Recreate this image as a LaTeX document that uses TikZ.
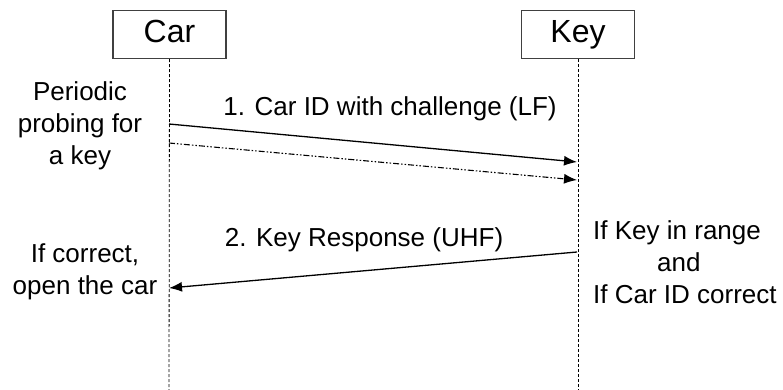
\documentclass[tikz,border=0pt]{standalone}
\usepackage{fontspec}
\setmainfont{Liberation Sans}
\usetikzlibrary{calc, arrows.meta}

\begin{document}
\begin{tikzpicture}[x=1pt, y=-1pt,
    % Define the styles for the boxes, lifelines and messages
    party/.style={draw=black!75, line width=1.2pt, minimum width=113pt,
        minimum height=48pt, inner sep=0pt, text height=23pt, text depth=6pt,
        font=\fontsize{32}{36}\selectfont},
    lifeline/.style={densely dashed, line width=0.8pt},
    msg/.style={-{Latex[length=13pt, width=10pt]}, line width=1.3pt},
    note/.style={align=center, font=\fontsize{26}{32}\selectfont}
]
\useasboundingbox (0,0) rectangle (783,390);

% Define the two parties
\node[party] (car) at (169.5,34.5) {Car};
\node[party] (key) at (578,34.5) {Key};

% Ends of the lifelines
\coordinate (carEnd) at (169,390);
\coordinate (keyEnd) at (578,390);

% Draw the lifelines
\draw[lifeline] (car.south) -- (carEnd);
\draw[lifeline] (key.south) -- (keyEnd);

% Points of the messages
\coordinate (A) at (169,124);
\coordinate (B) at (577,162);
\coordinate (C) at (169,143);
\coordinate (D) at (577,180);
\coordinate (E) at (577,252);
\coordinate (F) at (169,288);

% Draw the messages
\draw[msg] (A) -- (B);
\draw[msg, line width=1.1pt, dash pattern=on 6pt off 2pt on 1.5pt off 2pt on 1.5pt off 2pt] (C) -- (D);
\draw[msg] (E) -- (F);

% Add the message labels
\node[note] (m1) at (390,109) {1. Car ID with challenge (LF)};
\node[note] (m2) at (364,240) {2. Key Response (UHF)};

% Add the notes beside the lifelines
\node[note] (probe) at (80,126) {Periodic\\probing for\\a key};
\node[note] (open) at (85,272) {If correct,\\open the car};
\node[note, align=left, anchor=west, inner sep=0pt] (check) at (593,262)
    {If Key in range\\\hspace*{64pt}and\\If Car ID correct};

\end{tikzpicture}
\end{document}
